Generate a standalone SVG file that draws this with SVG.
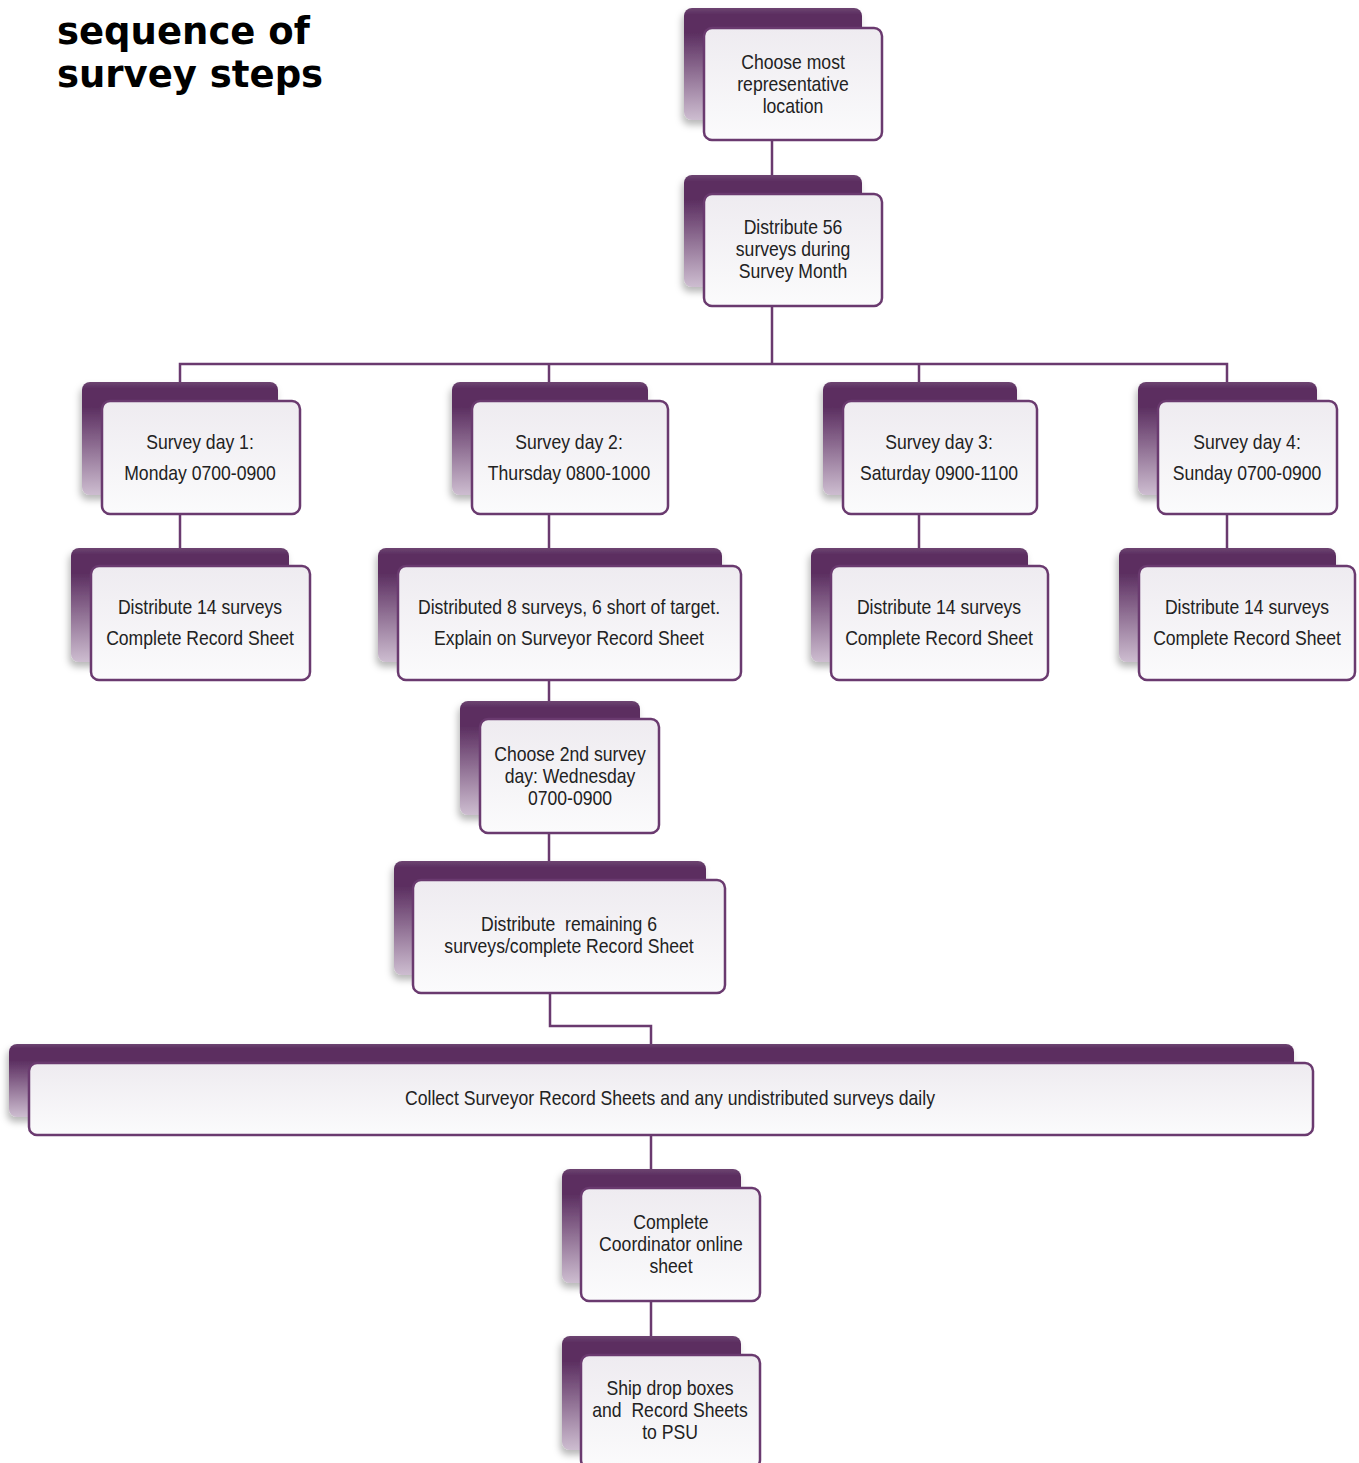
<svg xmlns="http://www.w3.org/2000/svg" width="1359" height="1463" viewBox="0 0 1359 1463">
<defs>
<linearGradient id="gBack" x1="0" y1="0" x2="0" y2="1">
<stop offset="0" stop-color="#6d4571"/>
<stop offset="0.06" stop-color="#5b2e60"/>
<stop offset="0.22" stop-color="#5b2e60"/>
<stop offset="1" stop-color="#cdbdd0"/>
</linearGradient>
<linearGradient id="gFront" x1="0" y1="0" x2="0" y2="1">
<stop offset="0" stop-color="#eeebf0"/>
<stop offset="1" stop-color="#fbfbfc"/>
</linearGradient>
<filter id="sh" x="-20%" y="-20%" width="140%" height="150%">
<feDropShadow dx="-2" dy="5" stdDeviation="3.5" flood-color="#000" flood-opacity="0.28"/>
</filter>
</defs>
<style>
.back{fill:url(#gBack);filter:url(#sh)}
.front{fill:url(#gFront);stroke:#6a3a6f;stroke-width:2.5}
.t{font-family:"Liberation Sans",Arial,sans-serif;font-size:20px;fill:#222;text-anchor:middle}
.title{font-family:"DejaVu Sans",Verdana,sans-serif;font-weight:bold;font-size:37px;fill:#000}
.conn{fill:none;stroke:#6a3a6f;stroke-width:2.5}
</style>
<rect width="1359" height="1463" fill="#fff"/>
<g id="title">
<text class="title" x="57" y="44">sequence of</text>
<text class="title" x="57" y="87">survey steps</text>
</g>
<g id="connectors">
<path class="conn" d="M772 140V176"/>
<path class="conn" d="M772 306V364"/>
<path class="conn" d="M180 383V364H1227V383"/>
<path class="conn" d="M549 364V383"/>
<path class="conn" d="M919 364V383"/>
<path class="conn" d="M180 514V549"/>
<path class="conn" d="M549 514V549"/>
<path class="conn" d="M919 514V549"/>
<path class="conn" d="M1227 514V549"/>
<path class="conn" d="M549 680V702"/>
<path class="conn" d="M549 833V862"/>
<path class="conn" d="M550 993V1026H651V1045"/>
<path class="conn" d="M651 1135V1170"/>
<path class="conn" d="M651 1301V1337"/>
</g>
<g id="n1">
<rect class="back" x="684" y="8" width="178" height="112" rx="8"/>
<rect class="front" x="704" y="28" width="178" height="112" rx="8"/>
<g transform="translate(793 0) scale(0.88 1)"><text class="t" x="0" y="69">Choose most</text><text class="t" x="0" y="91">representative</text><text class="t" x="0" y="113">location</text></g>
</g>
<g id="n2">
<rect class="back" x="684" y="175" width="178" height="112" rx="8"/>
<rect class="front" x="704" y="194" width="178" height="112" rx="8"/>
<g transform="translate(793 0) scale(0.88 1)"><text class="t" x="0" y="234">Distribute 56</text><text class="t" x="0" y="256">surveys during</text><text class="t" x="0" y="278">Survey Month</text></g>
</g>
<g id="d1">
<rect class="back" x="82" y="382" width="196" height="113" rx="8"/>
<rect class="front" x="102" y="401" width="198" height="113" rx="8"/>
<g transform="translate(200 0) scale(0.88 1)"><text class="t" x="0" y="449">Survey day 1:</text><text class="t" x="0" y="480">Monday 0700-0900</text></g>
</g>
<g id="d2">
<rect class="back" x="452" y="382" width="196" height="113" rx="8"/>
<rect class="front" x="472" y="401" width="196" height="113" rx="8"/>
<g transform="translate(569 0) scale(0.88 1)"><text class="t" x="0" y="449">Survey day 2:</text><text class="t" x="0" y="480">Thursday 0800-1000</text></g>
</g>
<g id="d3">
<rect class="back" x="823" y="382" width="194" height="113" rx="8"/>
<rect class="front" x="843" y="401" width="194" height="113" rx="8"/>
<g transform="translate(939 0) scale(0.88 1)"><text class="t" x="0" y="449">Survey day 3:</text><text class="t" x="0" y="480">Saturday 0900-1100</text></g>
</g>
<g id="d4">
<rect class="back" x="1138" y="382" width="179" height="113" rx="8"/>
<rect class="front" x="1158" y="401" width="179" height="113" rx="8"/>
<g transform="translate(1247 0) scale(0.88 1)"><text class="t" x="0" y="449">Survey day 4:</text><text class="t" x="0" y="480">Sunday 0700-0900</text></g>
</g>
<g id="r1">
<rect class="back" x="71" y="548" width="218" height="114" rx="8"/>
<rect class="front" x="91" y="566" width="219" height="114" rx="8"/>
<g transform="translate(200 0) scale(0.88 1)"><text class="t" x="0" y="614">Distribute 14 surveys</text><text class="t" x="0" y="645">Complete Record Sheet</text></g>
</g>
<g id="r2">
<rect class="back" x="378" y="548" width="344" height="114" rx="8"/>
<rect class="front" x="398" y="566" width="343" height="114" rx="8"/>
<g transform="translate(569 0) scale(0.88 1)"><text class="t" x="0" y="614">Distributed 8 surveys, 6 short of target.</text><text class="t" x="0" y="645">Explain on Surveyor Record Sheet</text></g>
</g>
<g id="r3">
<rect class="back" x="811" y="548" width="217" height="114" rx="8"/>
<rect class="front" x="831" y="566" width="217" height="114" rx="8"/>
<g transform="translate(939 0) scale(0.88 1)"><text class="t" x="0" y="614">Distribute 14 surveys</text><text class="t" x="0" y="645">Complete Record Sheet</text></g>
</g>
<g id="r4">
<rect class="back" x="1119" y="548" width="217" height="114" rx="8"/>
<rect class="front" x="1139" y="566" width="216" height="114" rx="8"/>
<g transform="translate(1247 0) scale(0.88 1)"><text class="t" x="0" y="614">Distribute 14 surveys</text><text class="t" x="0" y="645">Complete Record Sheet</text></g>
</g>
<g id="c2">
<rect class="back" x="460" y="701" width="180" height="114" rx="8"/>
<rect class="front" x="480" y="719" width="179" height="114" rx="8"/>
<g transform="translate(570 0) scale(0.88 1)"><text class="t" x="0" y="761">Choose 2nd survey</text><text class="t" x="0" y="783">day: Wednesday</text><text class="t" x="0" y="805">0700-0900</text></g>
</g>
<g id="dr">
<rect class="back" x="394" y="861" width="312" height="114" rx="8"/>
<rect class="front" x="413" y="880" width="312" height="113" rx="8"/>
<g transform="translate(569 0) scale(0.88 1)"><text class="t" x="0" y="931" xml:space="preserve">Distribute  remaining 6</text><text class="t" x="0" y="953">surveys/complete Record Sheet</text></g>
</g>
<g id="collect">
<rect class="back" x="9" y="1044" width="1285" height="73" rx="8"/>
<rect class="front" x="29" y="1063" width="1284" height="72" rx="8"/>
<g transform="translate(670 0) scale(0.88 1)"><text class="t" x="0" y="1105">Collect Surveyor Record Sheets and any undistributed surveys daily</text></g>
</g>
<g id="coord">
<rect class="back" x="562" y="1169" width="179" height="114" rx="8"/>
<rect class="front" x="581" y="1188" width="179" height="113" rx="8"/>
<g transform="translate(671 0) scale(0.88 1)"><text class="t" x="0" y="1229">Complete</text><text class="t" x="0" y="1251">Coordinator online</text><text class="t" x="0" y="1273">sheet</text></g>
</g>
<g id="ship">
<rect class="back" x="562" y="1336" width="179" height="114" rx="8"/>
<rect class="front" x="581" y="1355" width="179" height="113" rx="8"/>
<g transform="translate(670 0) scale(0.88 1)"><text class="t" x="0" y="1395">Ship drop boxes</text><text class="t" x="0" y="1417" xml:space="preserve">and  Record Sheets</text><text class="t" x="0" y="1439">to PSU</text></g>
</g>
</svg>
